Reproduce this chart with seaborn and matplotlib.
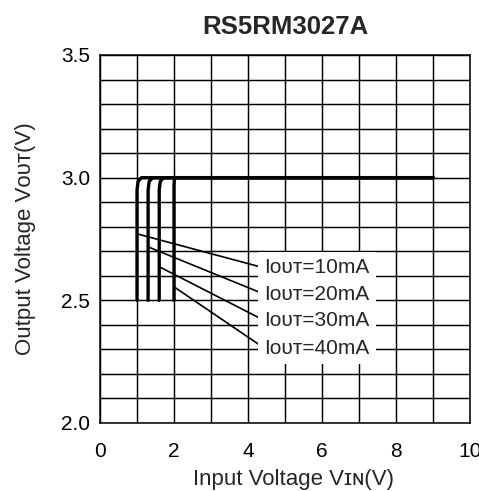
import numpy as np
import pandas as pd
import seaborn as sns
import matplotlib
matplotlib.use("Agg")
import matplotlib.pyplot as plt

# Данные
currents = ["10mA", "20mA", "30mA", "40mA"]
vin_10 = [1.0, 1.0, 1.03, 1.12, 9.0]
vin_20 = [1.3, 1.3, 1.33, 1.42, 9.0]
vin_30 = [1.6, 1.6, 1.63, 1.72, 9.0]
vin_40 = [2.0, 2.0, 2.01, 2.06, 9.0]
vout_10 = [2.5, 2.95, 2.985, 3.0, 3.0]
vout_20 = [2.5, 2.95, 2.985, 3.0, 3.0]
vout_30 = [2.5, 2.95, 2.985, 3.0, 3.0]
vout_40 = [2.5, 2.97, 2.993, 3.0, 3.0]

# точки на кривых, к которым идут выноски
pointer_x = [1.0, 1.3, 1.6, 2.0]
pointer_y = [2.771, 2.718, 2.637, 2.555]
label_y = [2.632, 2.525, 2.418, 2.305]

df = pd.DataFrame({
    'vin': vin_10 + vin_20 + vin_30 + vin_40,
    'vout': vout_10 + vout_20 + vout_30 + vout_40,
    'iout': [c for c in currents for _ in range(5)],
})

sns.set_style('white')
plt.rcParams['font.family'] = ['Liberation Sans', 'DejaVu Sans']

fig = plt.figure(figsize=(4.79, 4.91), dpi=100)
ax = fig.add_axes([0.2088, 0.1385, 0.7724, 0.7495])

sns.lineplot(data=df, x='vin', y='vout', hue='iout', palette=['black'] * 4,
             estimator=None, sort=False, linewidth=2.4, legend=False, ax=ax, zorder=3)

ax.set_xlim(0, 10)
ax.set_ylim(2.0, 3.5)
ax.set_xticks([0, 2, 4, 6, 8, 10])
ax.set_yticks([2.0, 2.5, 3.0, 3.5])
ax.set_yticklabels(['2.0', '2.5', '3.0', '3.5'])
ax.set_xticks(range(11), minor=True)
ax.set_yticks(np.arange(2.0, 3.51, 0.1), minor=True)
ax.grid(which='both', color='black', linewidth=1.05)
ax.tick_params(which='both', length=0, labelsize=15, colors='black')
ax.tick_params(axis='x', pad=14)
ax.tick_params(axis='y', pad=7)
for s in ax.spines.values():
    s.set_linewidth(1.1)
    s.set_color('black')

for cur, px, py, ly in zip(currents, pointer_x, pointer_y, label_y):
    ax.annotate('I\u1d0f\u1d1c\u1d1b=' + cur, xy=(px, py), xytext=(4.44, ly),
                ha='left', va='center', fontsize=15, zorder=4,
                bbox=dict(boxstyle='square,pad=0.3', fc='white', ec='none'),
                arrowprops=dict(arrowstyle='-', lw=1.2, color='black',
                                relpos=(0, 0.5), shrinkA=0, shrinkB=0))

ax.set_xlabel('Input Voltage V\u026a\u0274(V)', fontsize=16)
ax.xaxis.set_label_coords(0.524, -0.125)
ax.set_ylabel('Output Voltage V\u1d0f\u1d1c\u1d1b(V)', fontsize=16, labelpad=18)
ax.set_title('RS5RM3027A', fontsize=18.5, fontweight='bold', pad=15)

fig.savefig('out.png', dpi=100)
